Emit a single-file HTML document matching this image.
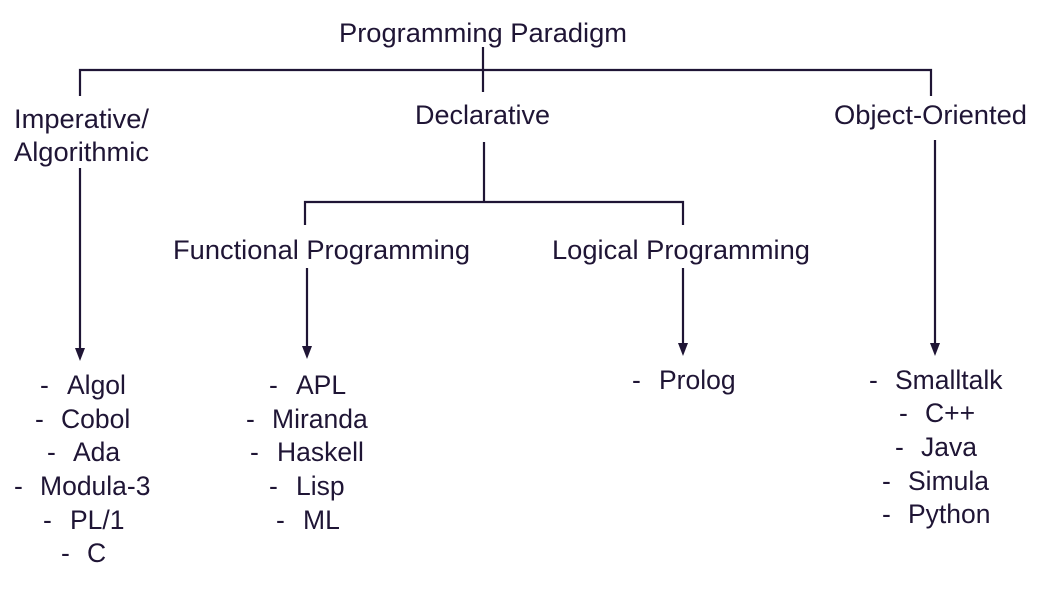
<!DOCTYPE html>
<html><head><meta charset="utf-8"><style>
html,body{margin:0;padding:0;background:#fff;width:1042px;height:604px;overflow:hidden}
text{font-family:"Liberation Sans",Arial,sans-serif;font-size:26.5px;fill:#1f1535}
</style></head><body>
<svg width="1042" height="604" viewBox="0 0 1042 604" xmlns="http://www.w3.org/2000/svg">
<g stroke="#1f1535" stroke-width="2.2" fill="none">
<path d="M80 96 V70 H931 V96"/>
<path d="M483 47 V92"/>
<path d="M80 168 V350"/>
<path d="M484 142 V202"/>
<path d="M305 225 V202 H683 V225"/>
<path d="M307 268 V348"/>
<path d="M683 268 V345"/>
<path d="M935 140 V345"/>
</g>
<g fill="#1f1535">
<path d="M75 348 L85 348 L80 361 Z"/>
<path d="M302 346 L312 346 L307 359 Z"/>
<path d="M678 343 L688 343 L683 356 Z"/>
<path d="M930 343 L940 343 L935 356 Z"/>
</g>
<g>
<text x="339" y="42" textLength="288" lengthAdjust="spacingAndGlyphs">Programming Paradigm</text>
<text x="14" y="128" textLength="135" lengthAdjust="spacingAndGlyphs">Imperative/</text>
<text x="14" y="161" textLength="135" lengthAdjust="spacingAndGlyphs">Algorithmic</text>
<text x="415" y="124" textLength="135" lengthAdjust="spacingAndGlyphs">Declarative</text>
<text x="834" y="124" textLength="193" lengthAdjust="spacingAndGlyphs">Object-Oriented</text>
<text x="173" y="259" textLength="297" lengthAdjust="spacingAndGlyphs">Functional Programming</text>
<text x="552" y="259" textLength="258" lengthAdjust="spacingAndGlyphs">Logical Programming</text>
</g>

<text x="40" y="394">-</text><text x="67" y="394">Algol</text>
<text x="35" y="428">-</text><text x="61" y="428">Cobol</text>
<text x="47" y="461">-</text><text x="73" y="461">Ada</text>
<text x="14" y="495">-</text><text x="40" y="495">Modula-3</text>
<text x="43" y="529">-</text><text x="70" y="529">PL/1</text>
<text x="61" y="562">-</text><text x="87" y="562">C</text>

<text x="269" y="394">-</text><text x="296" y="394">APL</text>
<text x="246" y="428">-</text><text x="272" y="428">Miranda</text>
<text x="250" y="461">-</text><text x="277" y="461">Haskell</text>
<text x="269" y="495">-</text><text x="296" y="495">Lisp</text>
<text x="276" y="529">-</text><text x="303" y="529">ML</text>

<text x="632" y="389">-</text><text x="659" y="389">Prolog</text>

<text x="869" y="389">-</text><text x="895" y="389">Smalltalk</text>
<text x="899" y="422">-</text><text x="925" y="422">C++</text>
<text x="895" y="456">-</text><text x="921" y="456">Java</text>
<text x="882" y="490">-</text><text x="908" y="490">Simula</text>
<text x="882" y="523">-</text><text x="908" y="523">Python</text>
</svg>
</body></html>
